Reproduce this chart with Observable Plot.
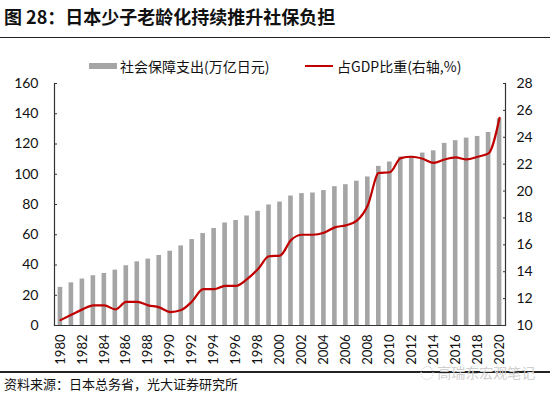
<!DOCTYPE html>
<html><head><meta charset="utf-8">
<script src="https://cdn.jsdelivr.net/npm/d3@7"></script>
<script src="https://cdn.jsdelivr.net/npm/@observablehq/plot@0.6"></script>
<style>
body{margin:0;background:#fff;}
#wrap{position:relative;width:550px;height:396px;overflow:hidden;font-family:"Noto Sans CJK SC",sans-serif;color:#111;}
#title{position:absolute;left:4px;top:3px;font-size:18px;font-weight:bold;line-height:26px;white-space:nowrap;}
.hr{position:absolute;left:0;width:550px;height:1.5px;background:#222;}
#chart{position:absolute;left:0;top:40px;}
.lg{position:absolute;top:56px;font-size:14px;line-height:20px;white-space:nowrap;}
.sw{position:absolute;}
#foot{position:absolute;left:4px;top:374px;font-size:13px;line-height:20px;white-space:nowrap;}
#wm{position:absolute;left:420px;top:362px;font-size:14px;line-height:20px;color:#cfcfcf;white-space:nowrap;}
</style></head>
<body>
<div id="wrap">
  <div id="title">图 28：日本少子老龄化持续推升社保负担</div>
  <div class="hr" style="top:36.5px"></div>
  <div id="chart"></div>
  <div class="sw" style="left:89px;top:63px;width:28px;height:6px;background:#a5a5a5"></div>
  <div class="lg" style="left:120px">社会保障支出(万亿日元)</div>
  <div class="sw" style="left:305px;top:65px;width:28px;height:2.2px;background:#c00000"></div>
  <div class="lg" style="left:337px">占GDP比重(右轴,%)</div>
  <div class="hr" style="top:371px"></div>
  <div id="wm">◌ 高瑞东宏观笔记</div>
  <div id="foot">资料来源：日本总务省，光大证券研究所</div>
</div>
<script>
const years = d3.range(1980, 2021);
const spending = [25.2, 28.2, 30.7, 32.9, 34.4, 36.6, 39.5, 42.1, 43.9, 46.3,
  49.1, 52.6, 56.8, 60.8, 64.1, 67.8, 69.4, 72.4, 75.5, 79.7,
  81.6, 85.6, 87.2, 87.6, 89.2, 91.8, 93.1, 95.4, 98.2, 105.2,
  108.1, 111.4, 111.8, 114.0, 115.5, 120.4, 122.2, 123.9, 125.0, 127.6, 136.7];
const gdpShare = [10.4, 10.8, 11.2, 11.5, 11.5, 11.2, 11.75, 11.75, 11.5, 11.35,
  11.0, 11.15, 11.8, 12.7, 12.7, 12.95, 12.95, 13.45, 14.2, 15.15,
  15.2, 16.35, 16.75, 16.75, 16.9, 17.3, 17.45, 17.8, 18.95, 21.35,
  21.4, 22.45, 22.55, 22.4, 22.1, 22.35, 22.5, 22.35, 22.55, 22.8, 25.45];
const leftTicks = [0, 20, 40, 60, 80, 100, 120, 140, 160];
const rightTicks = [10, 12, 14, 16, 18, 20, 22, 24, 26, 28];
const xTickYears = [1980,1982,1984,1986,1988,1990,1992,1994,1996,1998,2000,2002,2004,2006,2008,2010,2012,2014,2016,2018,2020];

const leftDomain = [0, 160], rightDomain = [10, 28];
const toLeft = v => leftDomain[0] + (v - rightDomain[0]) * (leftDomain[1] - leftDomain[0]) / (rightDomain[1] - rightDomain[0]);
const fromLeft = v => Math.round(rightDomain[0] + (v - leftDomain[0]) * (rightDomain[1] - rightDomain[0]) / (leftDomain[1] - leftDomain[0]));

const data = years.map((y, i) => ({year: y, spend: spending[i], share: gdpShare[i]}));

const numFont = "Lato, 'Noto Sans', sans-serif";
const chart = Plot.plot({
  width: 550, height: 330,
  marginTop: 43, marginBottom: 45, marginLeft: 54, marginRight: 45,
  x: {type: "band", domain: years, paddingInner: 0.58, paddingOuter: 0.33},
  y: {domain: leftDomain},
  style: {fontFamily: numFont, color: "#111", background: "transparent"},
  marks: [
    Plot.barY(data, {x: "year", y: "spend", fill: "#a5a5a5"}),
    Plot.line(data, {x: "year", y: d => toLeft(d.share), stroke: "#c00000", strokeWidth: 2.2, curve: "monotone-x"}),
    Plot.ruleY([0], {stroke: "#333", strokeWidth: 1.2}),
    Plot.frame({anchor: "left", stroke: "#333", strokeWidth: 1.2}),
    Plot.frame({anchor: "right", stroke: "#333", strokeWidth: 1.2}),
    Plot.axisY(leftTicks, {anchor: "left", tickSize: -3, tickPadding: 19, fontSize: 14, label: null, stroke: "#333"}),
    Plot.axisY(rightTicks.map(toLeft), {anchor: "right", tickSize: -3, tickPadding: 14, fontSize: 14, label: null, tickFormat: fromLeft, stroke: "#333"}),
    Plot.axisX(xTickYears, {anchor: "bottom", tickRotate: -90, tickSize: 0, tickPadding: 9, fontSize: 13, label: null, tickFormat: d => String(d)})
  ]
});
document.getElementById("chart").appendChild(chart);
</script>
</body></html>
